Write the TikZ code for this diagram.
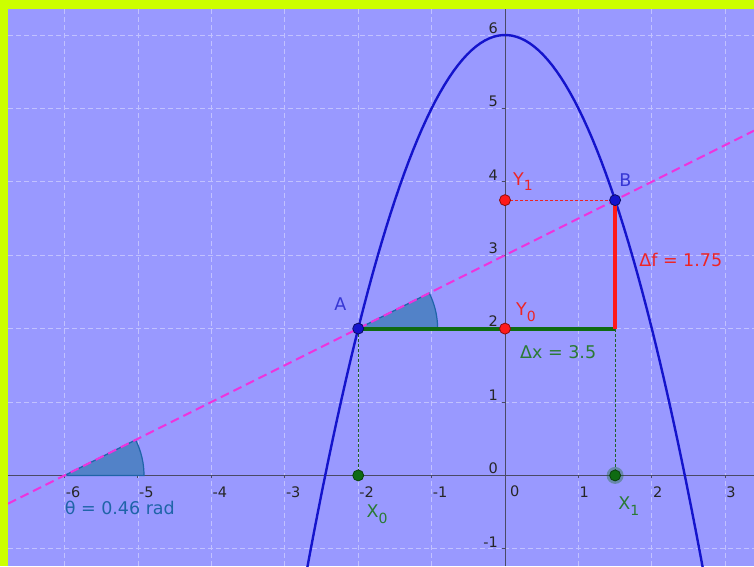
\documentclass[tikz,border=0pt]{standalone}
\usepackage{fontspec}
\setmainfont{DejaVu Sans}
\usepackage{xcolor}
\definecolor{framegreen}{HTML}{CCFF00}
\definecolor{bgblue}{HTML}{9999FF}
\definecolor{curveblue}{HTML}{1414CC}
\definecolor{secant}{HTML}{EE33DD}
\definecolor{anglefill}{HTML}{5282C8}
\definecolor{angleline}{HTML}{1F64A8}
\definecolor{segreen}{HTML}{0F6B12}
\definecolor{txtgreen}{HTML}{2A7A34}
\definecolor{segred}{HTML}{FF1A1A}
\definecolor{txtred}{HTML}{EE2424}
\definecolor{axisgray}{HTML}{4A4A66}
\tikzset{
  gridline/.style={white,opacity=0.4,line width=0.8pt,dash pattern=on 5pt off 3pt},
  axisline/.style={axisgray,line width=1pt},
  ticklabel/.style={font=\fontsize{14.5}{15}\selectfont,inner sep=0pt,text=black!85},
  ptlabel/.style={font=\fontsize{17.5}{18}\selectfont,inner sep=0pt,anchor=north west},
  anglesector/.style={fill=anglefill,draw=angleline,line width=1.2pt},
  guide/.style={line width=0.8pt,dash pattern=on 3pt off 2pt}
}
\newcommand{\subdig}[1]{\raisebox{-0.55ex}{\fontsize{14}{14}\selectfont #1}}
\begin{document}
\begin{tikzpicture}[x=73.4pt,y=73.4pt]
\fill[framegreen] (-6.880,-1.2343) rectangle (3.392,6.4768);
\fill[bgblue] (-6.771,-1.2343) rectangle (3.392,6.354);
\useasboundingbox (-6.880,-1.2343) rectangle (3.392,6.4768);
\coordinate (A) at (-2,2);
\coordinate (B) at (1.5,3.75);
\coordinate (C) at (1.5,2);
\coordinate (Y0) at (0,2);
\coordinate (Y1) at (0,3.75);
\coordinate (X0) at (-2,0);
\coordinate (X1) at (1.5,0);
\coordinate (S) at (-6,0);
\coordinate (L) at (-6.771,-0.3855);
\coordinate (R) at (3.392,4.696);
\begin{scope}
\clip (-6.771,-1.2343) rectangle (3.392,6.354);
\draw[gridline,step=1] (-6.771,-1.2343) grid (3.392,6.354);
\draw[axisline] (-6.771,0) -- (3.392,0);
\draw[axisline] (0,-1.2343) -- (0,6.354);
\foreach \x in {-6,...,-1,1,2,3} {
  \draw[axisline] (\x,0) -- ++(0,-3pt);
  \node[ticklabel,anchor=north west] at ([xshift=1pt,yshift=-11pt]\x,0) {\x};
}
\node[ticklabel,anchor=north west] at ([xshift=5pt,yshift=-10pt]0,0) {0};
\foreach \y in {-1,...,6} {
  \draw[axisline] (0,\y) -- ++(-3pt,0);
  \node[ticklabel,anchor=south east] at ([xshift=-7pt,yshift=1.5pt]0,\y) {\y};
}
\draw[anglesector] (S) -- ++(1.082,0) arc[start angle=0,end angle=26.565,radius=1.082] -- cycle;
\draw[anglesector] (A) -- ++(1.082,0) arc[start angle=0,end angle=26.565,radius=1.082] -- cycle;
\draw[curveblue,line width=2.4pt] plot[domain=-2.72:2.72,samples=90] (\x,{6-\x*\x});
\draw[secant,line width=2pt,dash pattern=on 9pt off 5pt] (L) -- (R);
\end{scope}
\draw[guide,txtgreen!80!black] (A) -- (X0);
\draw[guide,txtgreen!80!black] (C) -- (X1);
\draw[guide,txtred] (Y1) -- (B);
\draw[segreen,line width=4pt] (A) -- (C);
\draw[segred,line width=4pt] (C) -- (B);
\fill[segreen,opacity=0.35] (X1) circle (8.5pt);
\filldraw[fill=segreen,draw=segreen!60!black,line width=0.8pt] (X0) circle (5.5pt);
\filldraw[fill=segreen,draw=segreen!60!black,line width=0.8pt] (X1) circle (5.5pt);
\filldraw[fill=segred,draw=segred!55!black,line width=0.8pt] (Y0) circle (5.5pt);
\filldraw[fill=segred,draw=segred!55!black,line width=0.8pt] (Y1) circle (5.5pt);
\filldraw[fill=curveblue,draw=curveblue!50!black,line width=0.8pt] (A) circle (5.5pt);
\filldraw[fill=curveblue,draw=curveblue!50!black,line width=0.8pt] (B) circle (5.5pt);
\node[ptlabel,text=curveblue!85!white] (labA) at ([xshift=-24pt,yshift=31pt]A) {A};
\node[ptlabel,text=curveblue!85!white] (labB) at ([xshift=4pt,yshift=27pt]B) {B};
\node[ptlabel,text=txtred] (labY1) at ([xshift=8pt,yshift=28pt]Y1) {Y\subdig{1}};
\node[ptlabel,text=txtred] (labY0) at ([xshift=11pt,yshift=25.6pt]Y0) {Y\subdig{0}};
\node[ptlabel,text=txtgreen] (labX0) at ([xshift=8.3pt,yshift=-29.6pt]X0) {X\subdig{0}};
\node[ptlabel,text=txtgreen] (labX1) at ([xshift=3pt,yshift=-21.6pt]X1) {X\subdig{1}};
\node[ptlabel,text=txtgreen] (labdx) at ([xshift=15pt,yshift=-16.4pt]Y0) {Δx = 3.5};
\node[ptlabel,text=txtred] (labdf) at ([xshift=24pt,yshift=-53pt]B) {Δf = 1.75};
\node[ptlabel,text=angleline] (labth) at ([yshift=-25.6pt]S) {θ = 0.46 rad};
\end{tikzpicture}
\end{document}
